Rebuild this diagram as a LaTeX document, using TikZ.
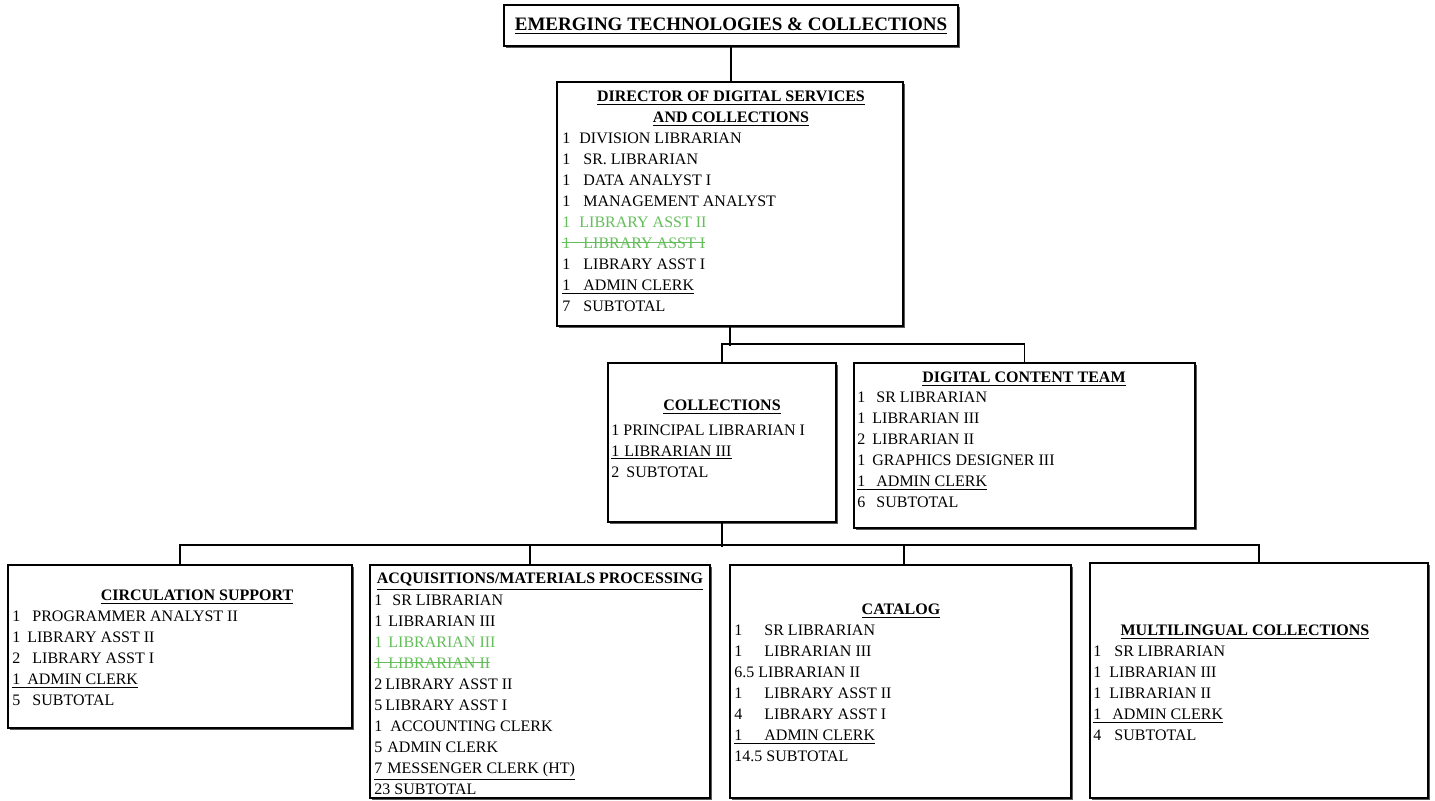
\documentclass[tikz,border=0pt]{standalone}
\usepackage{fontspec}
\setmainfont{Liberation Serif}
\usetikzlibrary{shadows,calc}
\definecolor{grn}{RGB}{100,190,90}
\newcommand{\nb}[2]{\makebox[#1pt][l]{#2}}
\newsavebox\stbox
\newcommand{\strk}[1]{\sbox\stbox{#1}\rlap{\rule[2.3pt]{\wd\stbox}{0.6pt}}\usebox\stbox}
\tikzset{
  orgbox/.style={draw=black, line width=0.8pt, fill=white, inner sep=0pt,
    drop shadow={shadow xshift=1pt, shadow yshift=-1pt, fill=black!65, opacity=1}},
  conn/.style={line width=0.9pt, draw=black},
  hdr/.style={font=\fontsize{8}{10.5}\selectfont\bfseries, inner sep=0pt, align=center, anchor=base},
  lst/.style={font=\fontsize{8}{10.5}\selectfont, inner sep=0pt, align=left, anchor=base west},
}
\begin{document}
\begin{tikzpicture}[x=0.5pt,y=-0.5pt]
\useasboundingbox (0,0) rectangle (1435,800);
% boxes
\node[orgbox, minimum width=227pt, minimum height=20.5pt] (top) at (731,25.5) {};
\node[orgbox, minimum width=173pt, minimum height=122pt] (dir) at (730,204) {};
\node[orgbox, minimum width=114pt, minimum height=79.5pt] (coll) at (722,442.5) {};
\node[orgbox, minimum width=170.5pt, minimum height=82.5pt] (dct) at (1024.5,445.5) {};
\node[orgbox, minimum width=172pt, minimum height=81.5pt] (circ) at (180,646.5) {};
\node[orgbox, minimum width=170pt, minimum height=116.5pt] (acq) at (540,681.5) {};
\node[orgbox, minimum width=170.5pt, minimum height=116.5pt] (cat) at (900.5,681.5) {};
\node[orgbox, minimum width=169pt, minimum height=117.5pt] (ml) at (1259,680.5) {};
% connectors
\draw[conn] (top.south) -- (top.south |- dir.north);
\draw[conn] (dir.south) -- ++(0,19);
\draw[conn] (coll.north) -- ++(0,-18) -| (dct.north);
\draw[conn] (coll.south) -- ++(0,24);
\draw[conn] (circ.north) -- ++(0,-19) -| (ml.north);
\draw[conn] ($(acq.north)+(-10,0)$) -- ++(0,-19);
\draw[conn] ($(cat.north)+(3.5,0)$) -- ++(0,-19);
% title
\node[font=\fontsize{9.5}{11}\selectfont\bfseries, inner sep=0pt, anchor=base] (toptxt) at (731,30)
  {\underline{EMERGING TECHNOLOGIES \& COLLECTIONS}};
% director
\node[hdr] (dirh) at (731,122.5) {\underline{DIRECTOR OF DIGITAL SERVICES}\\\underline{AND COLLECTIONS}};
\node[lst] (dirl) at (562,311) {%
  \nb{8.5}{1}DIVISION LIBRARIAN\\
  \nb{10.5}{1}SR. LIBRARIAN\\
  \nb{10.5}{1}DATA ANALYST I\\
  \nb{10.5}{1}MANAGEMENT ANALYST\\
  \textcolor{grn}{\nb{8.5}{1}LIBRARY ASST II}\\
  \textcolor{grn}{\strk{\nb{10.5}{1}LIBRARY ASST I}}\\
  \nb{10.5}{1}LIBRARY ASST I\\
  \underline{\nb{10.5}{1}ADMIN CLERK}\\
  \nb{10.5}{7}SUBTOTAL};
% collections
\node[hdr] (collh) at (722,410.5) {\underline{COLLECTIONS}};
\node[lst] (colll) at (611,477) {%
  \nb{6}{1}PRINCIPAL LIBRARIAN I\\
  \underline{\nb{6.5}{1}LIBRARIAN III}\\
  \nb{7.5}{2}SUBTOTAL};
% digital content team
\node[hdr] (dcth) at (1024,382.5) {\underline{DIGITAL CONTENT TEAM}};
\node[lst] (dctl) at (857,507.5) {%
  \nb{9.5}{1}SR LIBRARIAN\\
  \nb{7.5}{1}LIBRARIAN III\\
  \nb{7.5}{2}LIBRARIAN II\\
  \nb{7.5}{1}GRAPHICS DESIGNER III\\
  \underline{\nb{9.5}{1}ADMIN CLERK}\\
  \nb{9.5}{6}SUBTOTAL};
% circulation support
\node[hdr] (circh) at (197,600.5) {\underline{CIRCULATION SUPPORT}};
\node[lst] (circl) at (12,705) {%
  \nb{10}{1}PROGRAMMER ANALYST II\\
  \nb{7.5}{1}LIBRARY ASST II\\
  \nb{10}{2}LIBRARY ASST I\\
  \underline{\nb{7.5}{1}ADMIN CLERK}\\
  \nb{10}{5}SUBTOTAL};
% acquisitions
\node[hdr] (acqh) at (540,583.5) {\underline{ACQUISITIONS/MATERIALS PROCESSING}};
\node[lst] (acql) at (374,794) {%
  \nb{9}{1}SR LIBRARIAN\\
  \nb{7}{1}LIBRARIAN III\\
  \textcolor{grn}{\nb{7}{1}LIBRARIAN III}\\
  \textcolor{grn}{\strk{\nb{7}{1}LIBRARIAN II}}\\
  \nb{5.5}{2}LIBRARY ASST II\\
  \nb{5.5}{5}LIBRARY ASST I\\
  \nb{8}{1}ACCOUNTING CLERK\\
  \nb{6.5}{5}ADMIN CLERK\\
  \underline{\nb{6.5}{7}MESSENGER CLERK (HT)}\\
  23 SUBTOTAL};
% catalog
\node[hdr] (cath) at (901,614.5) {\underline{CATALOG}};
\node[lst] (catl) at (734,761.5) {%
  \nb{15}{1}SR LIBRARIAN\\
  \nb{15}{1}LIBRARIAN III\\
  6.5 LIBRARIAN II\\
  \nb{15}{1}LIBRARY ASST II\\
  \nb{15}{4}LIBRARY ASST I\\
  \underline{\nb{15}{1}ADMIN CLERK}\\
  14.5 SUBTOTAL};
% multilingual
\node[hdr] (mlh) at (1245,635.5) {\underline{MULTILINGUAL COLLECTIONS}};
\node[lst] (mll) at (1093,740) {%
  \nb{10.5}{1}SR LIBRARIAN\\
  \nb{8}{1}LIBRARIAN III\\
  \nb{8}{1}LIBRARIAN II\\
  \underline{\nb{9.5}{1}ADMIN CLERK}\\
  \nb{10.5}{4}SUBTOTAL};
\end{tikzpicture}
\end{document}
